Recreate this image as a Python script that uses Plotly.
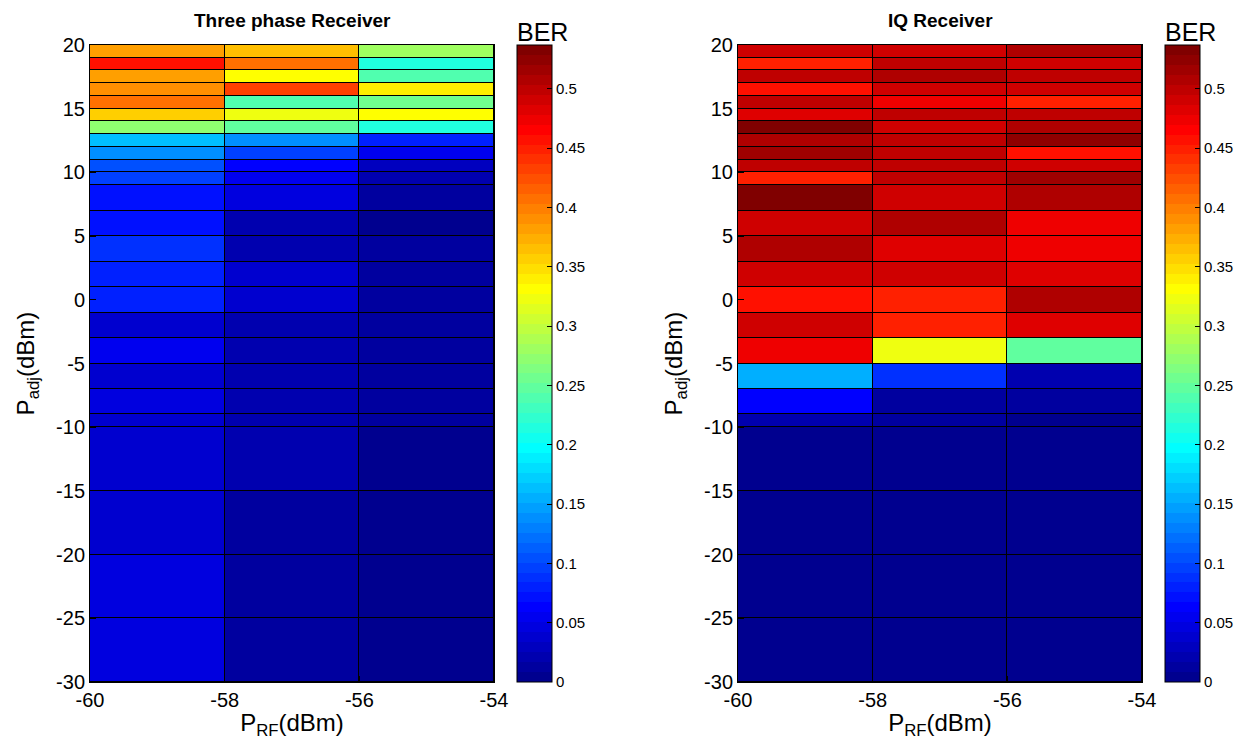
import plotly.graph_objects as go

# ---------------- data ----------------
x_edges = [-60, -58, -56, -54]
y_edges = [-30, -25, -20, -15, -10, -9, -7, -5, -3, -1, 1, 3, 5, 7, 9,
           10, 11, 12, 13, 14, 15, 16, 17, 18, 19, 20]

# rows from bottom (y=-30) to top (y=20); columns -60..-58, -58..-56, -56..-54
ber_three_phase = [
    [0.046, 0.012, 0.005],
    [0.046, 0.015, 0.007],
    [0.040, 0.015, 0.007],
    [0.038, 0.017, 0.007],
    [0.036, 0.017, 0.012],
    [0.046, 0.017, 0.012],
    [0.038, 0.017, 0.012],
    [0.057, 0.023, 0.009],
    [0.040, 0.017, 0.009],
    [0.080, 0.036, 0.012],
    [0.083, 0.034, 0.009],
    [0.089, 0.025, 0.009],
    [0.070, 0.023, 0.007],
    [0.075, 0.043, 0.015],
    [0.099, 0.054, 0.017],
    [0.103, 0.067, 0.031],
    [0.136, 0.099, 0.054],
    [0.161, 0.136, 0.083],
    [0.275, 0.246, 0.218],
    [0.354, 0.322, 0.328],
    [0.407, 0.243, 0.254],
    [0.393, 0.436, 0.336],
    [0.383, 0.328, 0.238],
    [0.454, 0.410, 0.218],
    [0.383, 0.362, 0.282],
]

ber_iq = [
    [0.001, 0.001, 0.001],
    [0.001, 0.001, 0.001],
    [0.001, 0.001, 0.001],
    [0.001, 0.001, 0.001],
    [0.025, 0.009, 0.007],
    [0.062, 0.012, 0.009],
    [0.152, 0.091, 0.023],
    [0.470, 0.320, 0.251],
    [0.491, 0.448, 0.480],
    [0.459, 0.451, 0.511],
    [0.489, 0.489, 0.480],
    [0.505, 0.483, 0.470],
    [0.494, 0.505, 0.470],
    [0.530, 0.489, 0.511],
    [0.448, 0.497, 0.514],
    [0.500, 0.500, 0.491],
    [0.517, 0.501, 0.459],
    [0.505, 0.501, 0.525],
    [0.536, 0.489, 0.505],
    [0.486, 0.500, 0.500],
    [0.501, 0.470, 0.451],
    [0.459, 0.489, 0.491],
    [0.500, 0.511, 0.500],
    [0.451, 0.497, 0.489],
    [0.494, 0.489, 0.511],
]

x_ticks = [-60, -58, -56, -54]
y_ticks = [-30, -25, -20, -15, -10, -5, 0, 5, 10, 15, 20]
cbar_ticks = [0, 0.05, 0.1, 0.15, 0.2, 0.25, 0.3, 0.35, 0.4, 0.45, 0.5]
c_min, c_max = 0.0, 0.537

titles = ["Three phase Receiver", "IQ Receiver"]
cbar_title = "BER"


# ---------------- MATLAB jet(64) stepped colorscale ----------------
def matlab_jet(m=64):
    n = -(-m // 4)
    u = [i / n for i in range(1, n + 1)] + [1.0] * (n - 1) + [i / n for i in range(n, 0, -1)]
    g0 = -(-n // 2) - (1 if m % 4 == 1 else 0)
    J = [[0.0, 0.0, 0.0] for _ in range(m)]
    for k, val in enumerate(u):
        g = g0 + k + 1
        r = g + n
        b = g - n
        if 1 <= r <= m:
            J[r - 1][0] = val
        if 1 <= g <= m:
            J[g - 1][1] = val
        if 1 <= b <= m:
            J[b - 1][2] = val
    return J


jet = matlab_jet(64)
colorscale = []
for i, (r, g, b) in enumerate(jet):
    c = f"rgb({round(r*255)},{round(g*255)},{round(b*255)})"
    colorscale.append([i / 64, c])
    colorscale.append([(i + 1) / 64, c])


def fmt(v):
    return f"{v:g}"  # plain hyphen minus, as in the original


FONT = "Liberation Sans, Arial, sans-serif"
W, H = 1244, 745

# pixel layout
ML, MR, MT, MB = 90, W - 1142, 45, H - 682
PW = W - ML - MR
PH = H - MT - MB
plot_left = [90, 738]
plot_right = [494, 1142]
cb_left = [517, 1165]


def px_x(p):
    return (p - ML) / PW


def px_y(p):
    return 1 - (p - MT) / PH


fig = go.Figure()
datasets = [ber_three_phase, ber_iq]
for k in range(2):
    axn = "" if k == 0 else str(k + 1)
    fig.add_trace(go.Heatmap(
        x=x_edges, y=y_edges, z=datasets[k],
        coloraxis="coloraxis" + axn,
        xaxis="x" + axn, yaxis="y" + axn,
        xgap=1, ygap=1,
        hoverinfo="x+y+z",
    ))

layout = dict(
    width=W, height=H,
    margin=dict(l=ML, r=MR, t=MT, b=MB, autoexpand=False),
    paper_bgcolor="white",
    plot_bgcolor="black",
    font=dict(family=FONT, color="black"),
    showlegend=False,
    annotations=[],
)

for k in range(2):
    axn = "" if k == 0 else str(k + 1)
    xdom = [max(0, px_x(plot_left[k])), min(1, px_x(plot_right[k]))]
    layout["xaxis" + axn] = dict(
        domain=xdom, range=[x_edges[0], x_edges[-1]],
        tickvals=x_ticks, ticktext=[fmt(v) for v in x_ticks],
        ticks="inside", ticklen=6, tickcolor="black",
        showline=True, linecolor="black", linewidth=1, mirror=True,
        showgrid=False, zeroline=False, automargin=False,
        tickfont=dict(size=20, family=FONT),
        title=dict(text="P<sub>RF</sub>(dBm)", font=dict(size=24, family=FONT), standoff=4),
        anchor="y" + axn,
    )
    layout["yaxis" + axn] = dict(
        domain=[0, 1], range=[y_edges[0], y_edges[-1]],
        tickvals=y_ticks, ticktext=[fmt(v) for v in y_ticks],
        ticks="inside", ticklen=6, tickcolor="black",
        showline=True, linecolor="black", linewidth=1, mirror=True,
        showgrid=False, zeroline=False, automargin=False,
        tickfont=dict(size=20, family=FONT),
        title=dict(text="P<sub>adj</sub>(dBm)", font=dict(size=24, family=FONT), standoff=14),
        anchor="x" + axn,
    )
    layout["coloraxis" + axn] = dict(
        colorscale=colorscale, cmin=c_min, cmax=c_max,
        colorbar=dict(
            x=px_x(cb_left[k]), xanchor="left", xpad=0,
            y=0.5, yanchor="middle", ypad=0,
            len=PH, lenmode="pixels",
            thickness=35, thicknessmode="pixels",
            outlinecolor="black", outlinewidth=1,
            tickvals=cbar_ticks, ticktext=[fmt(v) for v in cbar_ticks],
            ticks="inside", ticklen=5, tickcolor="black",
            tickfont=dict(size=15, family=FONT),
        ),
    )
    layout["annotations"].append(dict(
        text="<b>" + titles[k] + "</b>",
        x=px_x((plot_left[k] + plot_right[k]) / 2), y=px_y(20),
        xref="paper", yref="paper", xanchor="center", yanchor="middle",
        showarrow=False, font=dict(size=19, family=FONT),
    ))
    layout["annotations"].append(dict(
        text=cbar_title,
        x=px_x(cb_left[k] - 2), y=px_y(44),
        xref="paper", yref="paper", xanchor="left", yanchor="bottom",
        showarrow=False, font=dict(size=25, family=FONT),
        yshift=-4,
    ))

fig.update_layout(**layout)
fig.write_html(
    "out.html",
    config={"displayModeBar": False},
    post_script="document.body.style.margin='0';document.body.style.padding='0';",
)
